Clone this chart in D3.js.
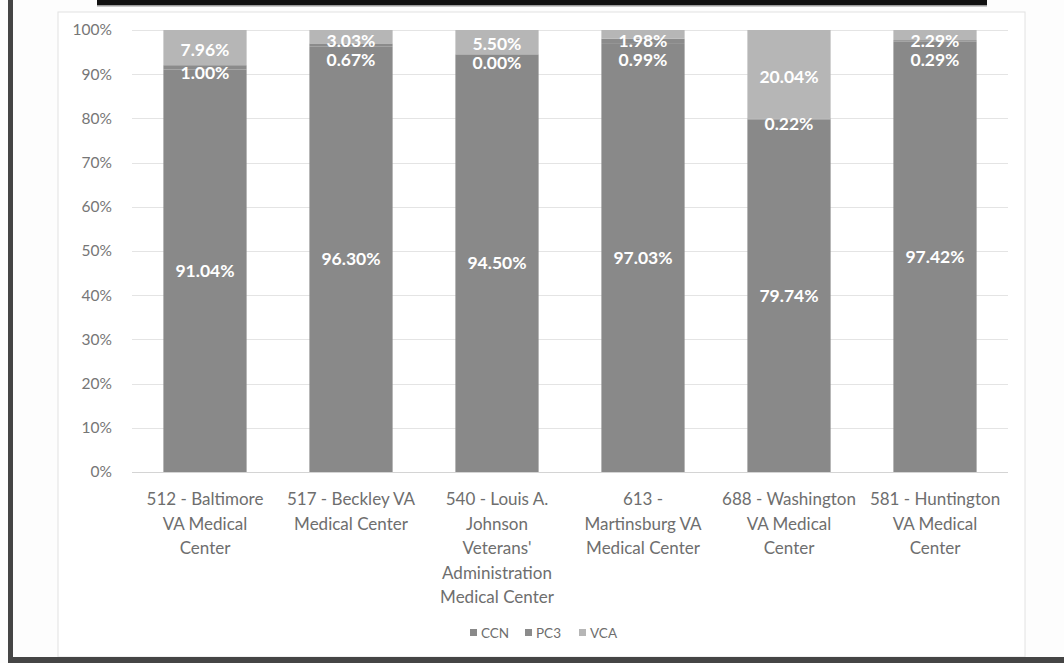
<!DOCTYPE html>
<html><head><meta charset="utf-8">
<script src="https://cdn.jsdelivr.net/npm/d3@7"></script>
<style>
html,body{margin:0;padding:0;background:#fdfdfd;}
svg{display:block;font-family:Lato,"Open Sans",sans-serif;}
</style></head>
<body>
<svg id="c" width="1064" height="663"></svg>
<script>
const categories = ["512 - Baltimore VA Medical Center","517 - Beckley VA Medical Center","540 - Louis A. Johnson Veterans' Administration Medical Center","613 - Martinsburg VA Medical Center","688 - Washington VA Medical Center","581 - Huntington VA Medical Center"];
const categoryLines = [
  ["512 - Baltimore","VA Medical","Center"],
  ["517 - Beckley VA","Medical Center"],
  ["540 - Louis A.","Johnson","Veterans'","Administration","Medical Center"],
  ["613 -","Martinsburg VA","Medical Center"],
  ["688 - Washington","VA Medical","Center"],
  ["581 - Huntington","VA Medical","Center"]
];
const seriesNames = ["CCN","PC3","VCA"];
const ccn = [91.04, 96.30, 94.50, 97.03, 79.74, 97.42];
const pc3 = [1.00, 0.67, 0.00, 0.99, 0.22, 0.29];
const vca = [7.96, 3.03, 5.50, 1.98, 20.04, 2.29];
const yTicks = [0,10,20,30,40,50,60,70,80,90,100];
const colors = {CCN:"#898989", PC3:"#8b8b8b", VCA:"#b6b6b6"};

const svg = d3.select("#c");

// frame decorations
svg.append("rect").attr("x",0).attr("y",0).attr("width",1064).attr("height",663).attr("fill","#fdfdfd");
svg.append("rect").attr("x",58).attr("y",12).attr("width",967).attr("height",645).attr("fill","#ffffff").attr("stroke","#e2e2e2").attr("stroke-width",1);
svg.append("rect").attr("x",8).attr("y",0).attr("width",5).attr("height",663).attr("fill","#454545");
svg.append("rect").attr("x",8).attr("y",657).attr("width",1056).attr("height",6).attr("fill","#454545");
svg.append("rect").attr("x",97).attr("y",0).attr("width",890).attr("height",6).attr("fill","#111111");
svg.append("rect").attr("x",97).attr("y",5).attr("width",890).attr("height",1.5).attr("fill","#9a9a9a");

const rows = categories.map((c,i)=>({cat:c, CCN:ccn[i], PC3:pc3[i], VCA:vca[i]}));
const stacked = d3.stack().keys(seriesNames)(rows);

const x = d3.scaleBand().domain(categories).range([132,1008]).paddingInner(0.43).paddingOuter(0.215);
const y = d3.scaleLinear().domain([0,100]).range([472,30]);

// gridlines
svg.append("g").selectAll("line").data(yTicks).join("line")
  .attr("x1",132).attr("x2",1008)
  .attr("y1",d=>Math.round(y(d))+0.5).attr("y2",d=>Math.round(y(d))+0.5)
  .attr("stroke",d=>d===0?"#d4d4d4":"#e4e4e4").attr("stroke-width",1.2);

// y axis labels
const yAxis = d3.axisLeft(y).tickValues(yTicks).tickSize(0).tickPadding(4).tickFormat(d=>d+"%");
const ya = svg.append("g").attr("transform","translate(116,0)").call(yAxis);
ya.select(".domain").remove();
ya.selectAll("text").attr("fill","#767676").attr("font-size","15.5px").attr("font-family","Lato,sans-serif");

// bars
const layers = svg.append("g").selectAll("g").data(stacked).join("g").attr("fill",d=>colors[d.key]);
layers.selectAll("rect").data(d=>d).join("rect")
  .attr("x",d=>x(d.data.cat)).attr("width",x.bandwidth())
  .attr("y",d=>y(d[1])).attr("height",d=>y(d[0])-y(d[1]));

// data labels
const labelG = svg.append("g").attr("fill","#ffffff").attr("font-size","17.5px").attr("font-weight","bold").attr("text-anchor","middle");
rows.forEach((r,i)=>{
  const cx = x(r.cat)+x.bandwidth()/2;
  const sC = stacked[0][i], sP = stacked[1][i], sV = stacked[2][i];
  const yC = y((sC[0]+sC[1])/2);
  let yV = Math.max(y((sV[0]+sV[1])/2), 39) + 2;
  let yP = Math.max(y((sP[0]+sP[1])/2) + 5, yV + 19);
  [[r.CCN,yC],[r.PC3,yP],[r.VCA,yV]].forEach(([v,yy])=>{
    labelG.append("text").attr("x",cx).attr("y",yy).attr("dy","0.36em").text(v.toFixed(2)+"%");
  });
});

// x axis labels
const xa = svg.append("g").attr("transform","translate(0,472)").call(d3.axisBottom(x).tickSize(0).tickFormat(""));
xa.select(".domain").remove();
xa.selectAll(".tick").each(function(d,i){
  const t = d3.select(this).append("text").attr("fill","#6e6e6e").attr("font-size","17px")
    .attr("font-family","Lato,sans-serif").attr("text-anchor","middle");
  categoryLines[i].forEach((ln,j)=>{
    t.append("tspan").attr("x",0).attr("y",27+j*24.5).attr("dy","0.36em").text(ln);
  });
});

// legend
const legX = [470, 525, 579];
const lg = svg.append("g").attr("font-size","13.5px").attr("fill","#6e6e6e");
seriesNames.forEach((s,i)=>{
  lg.append("rect").attr("x",legX[i]).attr("y",629).attr("width",7).attr("height",7).attr("fill",colors[s]);
  lg.append("text").attr("x",legX[i]+11).attr("y",633).attr("dy","0.36em").text(s);
});
</script>
</body></html>
